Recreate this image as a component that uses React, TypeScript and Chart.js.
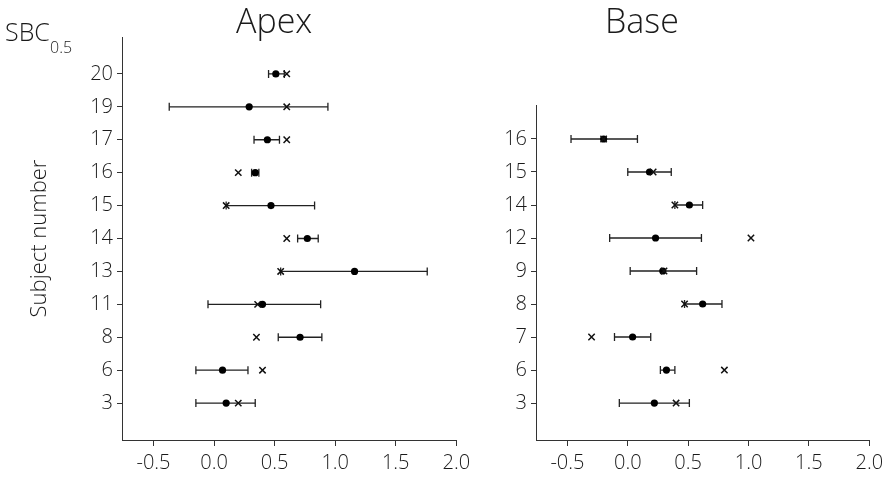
import { useEffect, useRef } from "react";
import { Chart, registerables } from "chart.js";

Chart.register(...registerables);

const FONT = "'Open Sans', 'DejaVu Sans', sans-serif";
const INK = "#1a1a1a";
const AXIS = "#333333";

// Apex panel (rows listed bottom to top)
const apexSubjects = ["3", "6", "8", "11", "13", "14", "15", "16", "17", "19", "20"];
const apexMean = [0.1, 0.07, 0.71, 0.4, 1.16, 0.77, 0.47, 0.34, 0.44, 0.29, 0.51];
const apexLow = [-0.15, -0.15, 0.53, -0.05, 0.55, 0.69, 0.1, 0.31, 0.33, -0.37, 0.45];
const apexHigh = [0.34, 0.28, 0.89, 0.88, 1.76, 0.86, 0.83, 0.37, 0.54, 0.94, 0.58];
const apexSbc = [0.2, 0.4, 0.35, 0.36, 0.55, 0.6, 0.1, 0.2, 0.6, 0.6, 0.6];

// Base panel (rows listed bottom to top)
const baseSubjects = ["3", "6", "7", "8", "9", "12", "14", "15", "16"];
const baseMean = [0.22, 0.32, 0.04, 0.62, 0.29, 0.23, 0.51, 0.18, -0.2];
const baseLow = [-0.07, 0.27, -0.11, 0.47, 0.02, -0.15, 0.39, 0.0, -0.47];
const baseHigh = [0.51, 0.39, 0.19, 0.78, 0.57, 0.61, 0.62, 0.36, 0.08];
const baseSbc = [0.4, 0.8, -0.3, 0.47, 0.3, 1.02, 0.39, 0.21, -0.2];

const xTicks = [-0.5, 0.0, 0.5, 1.0, 1.5, 2.0];
const X_MIN = -0.76;
const X_MAX = 2.0;
const Y_MIN = -1.12;

type PanelProps = {
  subjects: string[];
  mean: number[];
  low: number[];
  high: number[];
  sbc: number[];
  yMax: number;
  width: number;
  height: number;
  yAxisWidth: number;
  padTop: number;
  padRight: number;
  yTitle?: string;
};

function rangeSegments(low: number[], high: number[]) {
  const pts: { x: number | null; y: number | null }[] = [];
  low.forEach((lo, i) => {
    pts.push({ x: lo, y: i }, { x: high[i], y: i }, { x: null, y: null });
  });
  return pts;
}

function Panel(p: PanelProps) {
  const ref = useRef<HTMLCanvasElement | null>(null);

  useEffect(() => {
    if (!ref.current) return;
    const chart = new Chart(ref.current, {
      type: "scatter",
      data: {
        datasets: [
          {
            label: "SBC",
            data: p.sbc.map((v, i) => ({ x: v, y: i })),
            pointStyle: "crossRot",
            pointRadius: 4.5,
            pointBorderWidth: 1.5,
            pointBorderColor: "#111",
            pointBackgroundColor: "#111",
          },
          {
            label: "mean",
            data: p.mean.map((v, i) => ({ x: v, y: i })),
            pointStyle: "circle",
            pointRadius: 3.6,
            pointBorderWidth: 0,
            pointBackgroundColor: "#000",
            pointBorderColor: "#000",
          },
          {
            label: "range",
            data: rangeSegments(p.low, p.high),
            showLine: true,
            spanGaps: false,
            borderColor: "#222",
            borderWidth: 1.3,
            pointStyle: "line",
            pointRadius: 4,
            pointRotation: 90,
            pointBorderColor: "#222",
            pointBorderWidth: 1.3,
          },
        ],
      } as any,
      options: {
        responsive: false,
        animation: false,
        events: [],
        layout: { padding: { left: 0, right: p.padRight, top: p.padTop, bottom: 0 } },
        plugins: {
          legend: { display: false },
          tooltip: { enabled: false },
          title: { display: false },
        },
        scales: {
          x: {
            type: "linear",
            min: X_MIN,
            max: X_MAX,
            grid: { drawOnChartArea: false, drawTicks: true, tickLength: 6, color: AXIS },
            border: { color: AXIS, width: 1 },
            ticks: {
              color: INK,
              padding: 5,
              font: { family: FONT, size: 20, weight: "300" },
              callback: (v: any) => Number(v).toFixed(1),
            },
            afterBuildTicks: (s: any) => {
              s.ticks = xTicks.map((v) => ({ value: v }));
            },
            afterFit: (s: any) => {
              s.height = 39;
            },
          },
          y: {
            type: "linear",
            min: Y_MIN,
            max: p.yMax,
            grid: { drawOnChartArea: false, drawTicks: true, tickLength: 5, color: AXIS },
            border: { color: AXIS, width: 1 },
            ticks: {
              color: INK,
              padding: 4,
              font: { family: FONT, size: 20, weight: "300" },
              callback: (v: any) => p.subjects[Math.round(Number(v))] ?? "",
            },
            title: {
              display: !!p.yTitle,
              text: p.yTitle ?? "",
              color: INK,
              font: { family: FONT, size: 22, weight: "300" },
              padding: { top: 27, bottom: 0 },
            },
            afterBuildTicks: (s: any) => {
              s.ticks = p.subjects.map((_, i) => ({ value: i }));
            },
            afterFit: (s: any) => {
              s.width = p.yAxisWidth;
            },
          },
        },
      } as any,
    });
    return () => chart.destroy();
  }, []);

  return <canvas ref={ref} width={p.width} height={p.height} style={{ display: "block" }} />;
}

const textBase: React.CSSProperties = {
  position: "absolute",
  fontFamily: FONT,
  color: INK,
  lineHeight: 1,
  whiteSpace: "nowrap",
  fontWeight: 300,
};

export default function App() {
  return (
    <div
      style={{
        position: "fixed",
        left: 0,
        top: 0,
        width: 892,
        height: 479,
        background: "#fff",
        overflow: "hidden",
      }}
    >
      <div style={{ position: "absolute", left: 0, top: 0 }}>
        <Panel
          subjects={apexSubjects}
          mean={apexMean}
          low={apexLow}
          high={apexHigh}
          sbc={apexSbc}
          yMax={11.12}
          width={476}
          height={479}
          yAxisWidth={122}
          padTop={37}
          padRight={19.7}
          yTitle="Subject number"
        />
      </div>
      <div style={{ position: "absolute", left: 476, top: 0 }}>
        <Panel
          subjects={baseSubjects}
          mean={baseMean}
          low={baseLow}
          high={baseHigh}
          sbc={baseSbc}
          yMax={9.03}
          width={416}
          height={479}
          yAxisWidth={60}
          padTop={105}
          padRight={22.7}
        />
      </div>
      <div style={{ ...textBase, left: 236, top: 3, fontSize: 34 }}>Apex</div>
      <div style={{ ...textBase, left: 605, top: 3, fontSize: 34 }}>Base</div>
      <div style={{ ...textBase, left: 5, top: 19, fontSize: 25 }}>SBC</div>
      <div style={{ ...textBase, left: 50, top: 39, fontSize: 16 }}>0.5</div>
    </div>
  );
}
